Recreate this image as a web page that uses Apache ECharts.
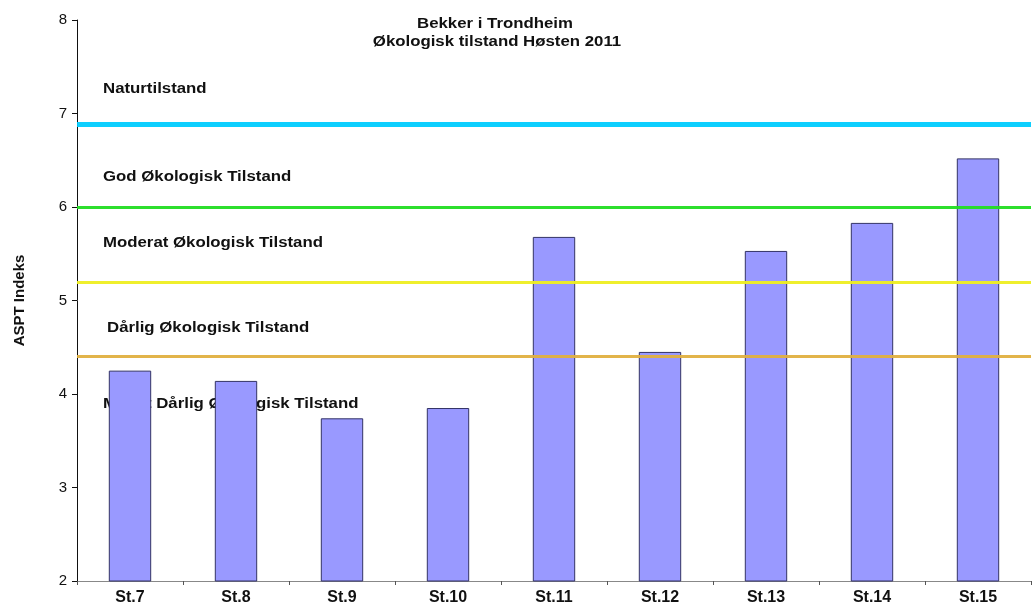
<!DOCTYPE html>
<html>
<head>
<meta charset="utf-8">
<script src="https://cdn.jsdelivr.net/npm/echarts@6/dist/echarts.min.js"></script>
<style>
  html, body { margin: 0; padding: 0; background: #fff; }
  #chart { width: 1034px; height: 609px; }
</style>
</head>
<body>
<div id="chart"></div>
<script>
const stations = ['St.7', 'St.8', 'St.9', 'St.10', 'St.11', 'St.12', 'St.13', 'St.14', 'St.15'];
const asptValues = [4.25, 4.14, 3.74, 3.85, 5.68, 4.45, 5.53, 5.83, 6.52];
const yTicks = [2, 8, 1]; // min, max, interval

// class limits (value, colour, width)
const limitValues = [6.88, 6.0, 5.2, 4.4];
const limitColors = ['#00ccff', '#22dd22', '#eeee22', '#e0b040'];
const limitWidths = [5, 3, 3, 3];

const classLabels = [
  'Naturtilstand',
  'God Økologisk Tilstand',
  'Moderat Økologisk Tilstand',
  'Dårlig Økologisk Tilstand',
  'Meget Dårlig Økologisk Tilstand',
];
const labelPos = [[103, 82], [103, 170], [103, 236], [107, 321], [103, 397]];
const titleLines = ['Bekker i Trondheim', 'Økologisk tilstand Høsten 2011'];
const titlePos = [[495, 17], [497, 35]];

const font = 'Liberation Sans, Arial, sans-serif';
const stretch = 1.2; // the original text is a bit wider than normal
const myChart = echarts.init(document.getElementById('chart'));

const graphics = classLabels.map((t, i) => ({
  type: 'text',
  x: labelPos[i][0],
  y: labelPos[i][1],
  scaleX: stretch,
  z: 0,
  style: { text: t, fill: '#111', font: 'bold 14px ' + font },
}));
titleLines.forEach((t, i) => {
  graphics.push({
    type: 'text',
    x: titlePos[i][0],
    y: titlePos[i][1],
    scaleX: stretch,
    z: 0,
    style: { text: t, fill: '#111', font: 'bold 14px ' + font, align: 'center' },
  });
});

myChart.setOption({
  animation: false,
  backgroundColor: '#fff',
  grid: { left: 77, right: 3, top: 20, bottom: 28, containLabel: false },
  graphic: graphics,
  xAxis: {
    type: 'category',
    data: stations,
    axisLine: { lineStyle: { color: '#888', width: 1 } },
    axisTick: { show: true, length: 4, lineStyle: { color: '#555' } },
    axisLabel: { color: '#111', fontWeight: 'bold', fontSize: 16, fontFamily: font, margin: 9 },
  },
  yAxis: {
    type: 'value',
    min: yTicks[0],
    max: yTicks[1],
    interval: yTicks[2],
    name: 'ASPT Indeks',
    nameLocation: 'middle',
    nameRotate: 90,
    nameGap: 50,
    nameTextStyle: { color: '#111', fontWeight: 'bold', fontSize: 15, fontFamily: font },
    axisLine: { show: true, lineStyle: { color: '#111', width: 1 } },
    axisTick: { show: true, length: 5, lineStyle: { color: '#111' } },
    axisLabel: { color: '#111', fontSize: 15, fontFamily: font, margin: 10 },
    splitLine: { show: false },
  },
  series: [
    {
      type: 'bar',
      z: 2,
      data: asptValues,
      barWidth: '40%',
      itemStyle: { color: '#9999ff', borderColor: '#333366', borderWidth: 1 },
      markLine: {
        silent: true,
        symbol: 'none',
        label: { show: false },
        z: 5,
        data: limitValues.map((v, i) => ({
          yAxis: v,
          lineStyle: { color: limitColors[i], width: limitWidths[i], type: 'solid', opacity: 0.95 },
        })),
      },
    },
  ],
});
</script>
</body>
</html>
